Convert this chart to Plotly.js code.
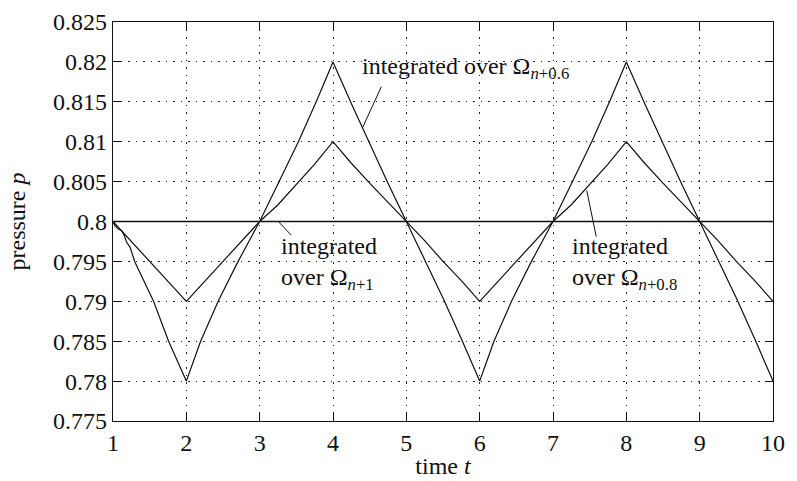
<!DOCTYPE html>
<html>
<head>
<meta charset="utf-8">
<script src="https://cdn.plot.ly/plotly-3.0.1.min.js"></script>
<style>
  html, body { margin: 0; padding: 0; background: #fff; }
  #chart { width: 797px; height: 481px; }
</style>
</head>
<body>
<div id="chart"></div>
<script>
// ---- data ----
// integrated over Omega_{n+0.6}
const tBig = [1, 1.027, 1.073, 1.119, 1.155, 1.187, 1.233, 1.30, 1.553, 1.758, 2,
              2.195, 2.434, 2.706, 3, 3.266, 3.528, 3.771, 4,
              4.25, 4.5, 4.75, 5, 5.25, 5.5, 5.75, 6,
              6.195, 6.434, 6.706, 7, 7.266, 7.528, 7.771, 8,
              8.25, 8.5, 8.75, 9, 9.25, 9.5, 9.75, 10];
const pBig = [0.8, 0.79946, 0.79905, 0.79884, 0.79822, 0.79739, 0.79676, 0.7949, 0.79, 0.785, 0.78,
              0.785, 0.79, 0.795, 0.8, 0.805, 0.81, 0.815, 0.82,
              0.8148, 0.8097, 0.8048, 0.8, 0.7953, 0.7904, 0.7853, 0.78,
              0.785, 0.79, 0.795, 0.8, 0.805, 0.81, 0.815, 0.82,
              0.8148, 0.8097, 0.8048, 0.8, 0.7953, 0.7904, 0.7853, 0.78];
// integrated over Omega_{n+0.8}
const tMid = [1, 1.03, 1.5, 2, 2.5, 3, 3.25, 3.5, 3.75, 4,
              4.25, 4.5, 4.75, 5, 5.25, 5.5, 5.75, 6,
              6.5, 7, 7.25, 7.5, 7.75, 8,
              8.25, 8.5, 8.75, 9, 9.25, 9.5, 9.75, 10];
const pMid = [0.8, 0.7997, 0.7951, 0.79, 0.795, 0.8, 0.8021, 0.8046, 0.8072, 0.81,
              0.8073, 0.8048, 0.8024, 0.8, 0.7976, 0.795, 0.7926, 0.79,
              0.795, 0.8, 0.8021, 0.8046, 0.8072, 0.81,
              0.8073, 0.8048, 0.8024, 0.8, 0.7976, 0.795, 0.7926, 0.79];
// integrated over Omega_{n+1}
const tFlat = [1, 10];
const pFlat = [0.8, 0.8];

const xTicks = [1, 2, 3, 4, 5, 6, 7, 8, 9, 10];
const yTicks = [0.775, 0.78, 0.785, 0.79, 0.795, 0.8, 0.805, 0.81, 0.815, 0.82, 0.825];
const yTickText = ["0.775", "0.78", "0.785", "0.79", "0.795", "0.8", "0.805", "0.81", "0.815", "0.82", "0.825"];

const labelA = "integrated over Ω<sub><i>n</i>+0.6</sub>";
const labelB = "integrated<br>over Ω<sub><i>n</i>+1</sub>";
const labelC = "integrated<br>over Ω<sub><i>n</i>+0.8</sub>";

// ---- figure ----
const FONT = "'Liberation Serif', 'Times New Roman', serif";
const lineStyle = {color: "#111", width: 1.2};

const traces = [
  {x: tFlat, y: pFlat, mode: "lines", line: {color: "#111", width: 1.3}, hoverinfo: "skip"},
  {x: tMid, y: pMid, mode: "lines", line: lineStyle, hoverinfo: "skip"},
  {x: tBig, y: pBig, mode: "lines", line: lineStyle, hoverinfo: "skip"}
];

const axisCommon = {
  showline: true, linecolor: "#111", linewidth: 1.3, mirror: "ticks",
  ticks: "inside", ticklen: 8, tickcolor: "#111", tickwidth: 1,
  showgrid: true, gridcolor: "#222", gridwidth: 1, griddash: "1.5px,6px",
  zeroline: false,
  tickfont: {family: FONT, size: 24, color: "#111"}
};

const annFont = {family: FONT, size: 24, color: "#111"};

const layout = {
  width: 797, height: 481,
  margin: {l: 113, r: 24, t: 22, b: 60},
  paper_bgcolor: "#fff", plot_bgcolor: "#fff",
  showlegend: false,
  font: {family: FONT, size: 24, color: "#111"},
  xaxis: Object.assign({}, axisCommon, {
    range: [1, 10], tickvals: xTicks, ticktext: xTicks.map(String),
    title: {text: "time <i>t</i>", font: {family: FONT, size: 24}, standoff: 2}
  }),
  yaxis: Object.assign({}, axisCommon, {
    range: [0.775, 0.825], tickvals: yTicks, ticktext: yTickText,
    title: {text: "pressure <i>p</i>", font: {family: FONT, size: 24}, standoff: 20}
  }),
  annotations: [
    {x: 4.37, y: 0.8192, xref: "x", yref: "y", text: labelA, showarrow: false,
     xanchor: "left", yanchor: "middle", align: "left", font: annFont},
    {x: 3.27, y: 0.7947, xref: "x", yref: "y", text: labelB, showarrow: false,
     xanchor: "left", yanchor: "middle", align: "left", font: annFont},
    {x: 7.23, y: 0.7947, xref: "x", yref: "y", text: labelC, showarrow: false,
     xanchor: "left", yanchor: "middle", align: "left", font: annFont}
  ],
  shapes: [
    {type: "line", xref: "x", yref: "y", x0: 4.66, y0: 0.8169, x1: 4.40, y1: 0.8117, line: {color: "#111", width: 1}},
    {type: "line", xref: "x", yref: "y", x0: 3.255, y0: 0.8, x1: 3.43, y1: 0.7983, line: {color: "#111", width: 1}},
    {type: "line", xref: "x", yref: "y", x0: 7.46, y0: 0.8039, x1: 7.59, y1: 0.7981, line: {color: "#111", width: 1}}
  ]
};

Plotly.newPlot("chart", traces, layout, {displayModeBar: false, staticPlot: true});
</script>
</body>
</html>
